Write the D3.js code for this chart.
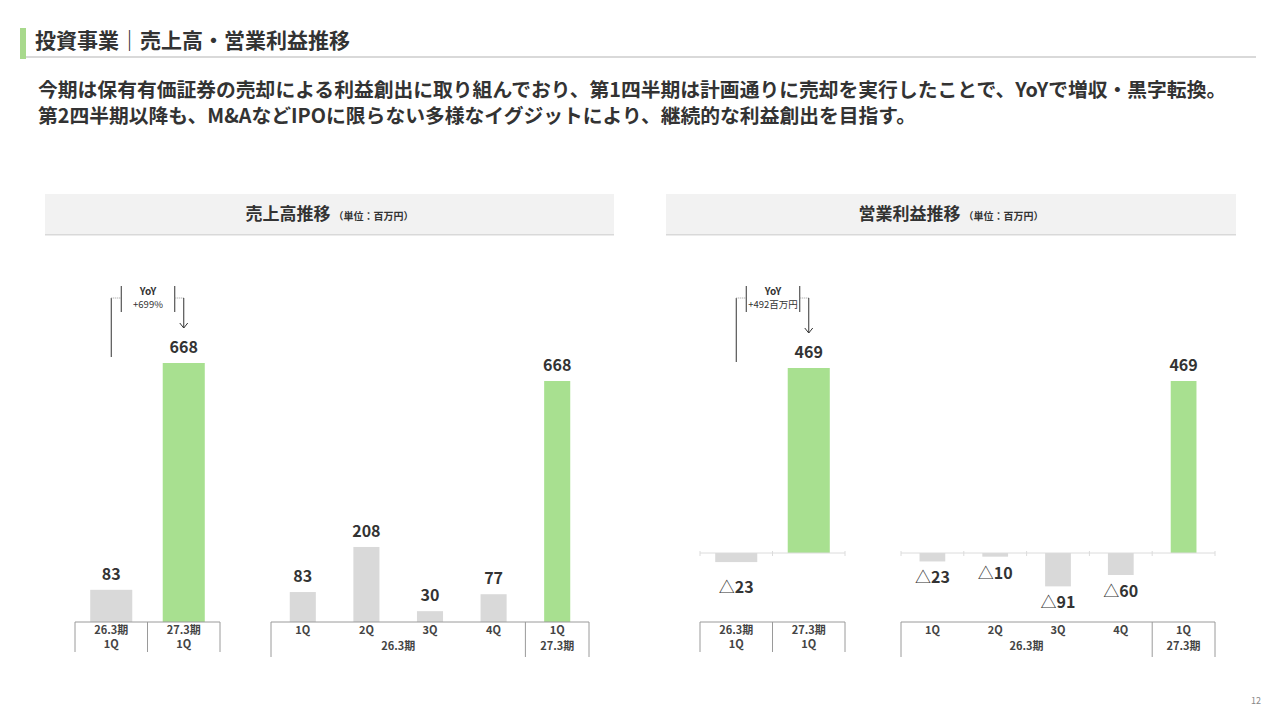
<!DOCTYPE html>
<html>
<head>
<meta charset="utf-8">
<style>
    body { margin: 0; background: #fff; }
    svg { display: block; font-family: "Noto Sans CJK JP", "Noto Sans", sans-serif; }
    .val { font-size: 16px; font-weight: bold; fill: #333; }
    .cat { font-size: 11px; font-weight: bold; fill: #444; }
</style>
</head>
<body>
<svg width="1280" height="720"></svg>
<script src="https://d3js.org/d3.v7.min.js"></script>
<script>
    // data
    let yoyCats = ["26.3期", "27.3期"];
    let quarters = ["1Q", "2Q", "3Q", "4Q", "1Q"];
    let periods = ["26.3期", "26.3期", "26.3期", "26.3期", "27.3期"];
    let salesYoy = [83, 668];
    let salesQ = [83, 208, 30, 77, 668];
    let profitYoy = [-23, 469];
    let profitQ = [-23, -10, -91, -60, 469];
    let yoyText = ["+699%", "+492百万円"];

    let green = "#a8e090";
    let grey = "#d9d9d9";

    let svg = d3.select("svg");

    // header
    svg.append("rect").attr("x", 20).attr("y", 28).attr("width", 6).attr("height", 31).attr("fill", "#a8d98c");
    svg.append("rect").attr("x", 26).attr("y", 56).attr("width", 1230).attr("height", 2).attr("fill", "#d9d9d9");
    svg.append("text").attr("x", 35).attr("y", 48)
        .style("font-size", "21px").style("font-weight", "bold").attr("fill", "#333")
        .text("投資事業｜売上高・営業利益推移");

    let lead = [
        "今期は保有有価証券の売却による利益創出に取り組んでおり、第1四半期は計画通りに売却を実行したことで、YoYで増収・黒字転換。",
        "第2四半期以降も、M&AなどIPOに限らない多様なイグジットにより、継続的な利益創出を目指す。"
    ];
    svg.append("text")
        .attr("x", 38).attr("y", 97)
        .style("font-size", "19.8px").style("font-weight", "bold").attr("fill", "#333")
        .selectAll("tspan").data(lead).join("tspan")
        .attr("x", 38).attr("dy", (d, i) => i === 0 ? 0 : 26)
        .text(d => d);

    // panel headers
    function panel(x0, x1, title) {
        svg.append("rect").attr("x", x0).attr("y", 194).attr("width", x1 - x0).attr("height", 41).attr("fill", "#f2f2f2");
        svg.append("rect").attr("x", x0).attr("y", 234).attr("width", x1 - x0).attr("height", 1.5).attr("fill", "#d9d9d9");
        let t = svg.append("text").attr("x", (x0 + x1) / 2).attr("y", 220)
            .attr("text-anchor", "middle").attr("fill", "#333");
        t.append("tspan").style("font-size", "17px").style("font-weight", "bold").text(title);
        t.append("tspan").style("font-size", "10px").style("font-weight", "bold").attr("dx", 3).text("（単位：百万円）");
    }
    panel(45, 614, "売上高推移");
    panel(666, 1236, "営業利益推移");

    function fmt(v) { return Math.abs(v); }

    function drawBars(cfg) {
        let x = d3.scaleBand().domain(d3.range(cfg.values.length))
            .range([cfg.x0, cfg.x1]).paddingInner(cfg.pad).paddingOuter(cfg.pad / 2);
        let y = d3.scaleLinear().domain([0, cfg.max]).range([cfg.base, cfg.top]);
        let g = svg.append("g");

        g.selectAll("rect.bar").data(cfg.values).join("rect")
            .attr("class", "bar")
            .attr("x", (d, i) => x(i))
            .attr("width", x.bandwidth())
            .attr("y", d => y(Math.max(0, d)))
            .attr("height", d => Math.abs(y(d) - y(0)))
            .attr("fill", (d, i) => i === cfg.values.length - 1 ? green : grey);

        // value labels
        let lab = g.selectAll("text.val").data(cfg.values).join("text")
            .attr("class", "val")
            .attr("text-anchor", "middle")
            .attr("x", (d, i) => x(i) + x.bandwidth() / 2)
            .attr("y", d => d >= 0 ? y(d) - 10 : y(d) + cfg.negOff);
        lab.filter(d => d < 0).append("tspan").style("font-weight", "normal").text("△");
        lab.append("tspan").text(d => fmt(d));

        // zero line for profit charts
        if (cfg.zeroLine) {
            g.append("line").attr("x1", cfg.x0).attr("x2", cfg.x1)
                .attr("y1", y(0)).attr("y2", y(0)).attr("stroke", "#dcdcdc");
            let edges = d3.range(cfg.values.length + 1).map(i => cfg.x0 + i * x.step());
            g.selectAll("line.tk").data(edges).join("line").attr("class", "tk")
                .attr("x1", d => d).attr("x2", d => d)
                .attr("y1", y(0) - 2).attr("y2", y(0) + 3).attr("stroke", "#dcdcdc");
        }

        // category table
        let tY = 622;
        g.append("line").attr("x1", cfg.x0).attr("x2", cfg.x1).attr("y1", tY).attr("y2", tY)
            .attr("stroke", "#9a9a9a");
        g.selectAll("line.div").data(cfg.dividers).join("line").attr("class", "div")
            .attr("x1", d => cfg.x0 + d * x.step()).attr("x2", d => cfg.x0 + d * x.step())
            .attr("y1", tY).attr("y2", tY + cfg.tableH).attr("stroke", "#9a9a9a");
        g.selectAll("text.c1").data(cfg.row1).join("text").attr("class", "cat c1")
            .attr("text-anchor", "middle")
            .attr("x", (d, i) => x(i) + x.bandwidth() / 2).attr("y", tY + 12)
            .text(d => d);
        g.selectAll("text.c2").data(cfg.row2).join("text").attr("class", "cat c2")
            .attr("text-anchor", "middle")
            .attr("x", d => cfg.x0 + d.mid * x.step()).attr("y", tY + cfg.row2Y)
            .text(d => d.label);
        return { x, y };
    }

    function yoyMark(sc, top, bottom, text) {
        let c1 = sc.x(0) + sc.x.bandwidth() / 2;
        let c2 = sc.x(1) + sc.x.bandwidth() / 2;
        let g = svg.append("g").attr("stroke", "#333").attr("fill", "none");
        g.append("line").attr("x1", c1).attr("x2", c1).attr("y1", 298).attr("y2", bottom);
        g.append("line").attr("x1", c1).attr("x2", c1 + 10).attr("y1", 298).attr("y2", 298)
            .attr("stroke", "#999").attr("stroke-dasharray", "1,1");
        g.append("line").attr("x1", c1 + 10).attr("x2", c1 + 10).attr("y1", 286).attr("y2", 312);
        g.append("line").attr("x1", c2 - 9).attr("x2", c2 - 9).attr("y1", 286).attr("y2", 312);
        g.append("line").attr("x1", c2 - 9).attr("x2", c2).attr("y1", 298).attr("y2", 298)
            .attr("stroke", "#999").attr("stroke-dasharray", "1,1");
        g.append("line").attr("x1", c2).attr("x2", c2).attr("y1", 298).attr("y2", top);
        g.append("path").attr("d", `M${c2 - 4},${top - 5}L${c2},${top}L${c2 + 4},${top - 5}`);
        let mid = (c1 + c2) / 2 + 0.5;
        svg.append("text").attr("x", mid).attr("y", 295).attr("text-anchor", "middle")
            .style("font-size", "10px").style("font-weight", "bold").attr("fill", "#333").text("YoY");
        svg.append("text").attr("x", mid).attr("y", 308).attr("text-anchor", "middle")
            .style("font-size", "9.5px").attr("fill", "#333").text(text);
    }

    // sales
    let s1 = drawBars({
        values: salesYoy, x0: 75, x1: 220, pad: 0.42, max: 668, base: 622, top: 363,
        negOff: 0, zeroLine: false, dividers: [0, 1, 2], tableH: 30,
        row1: yoyCats, row2: [{ label: "1Q", mid: 0.5 }, { label: "1Q", mid: 1.5 }], row2Y: 26
    });
    yoyMark(s1, 328, 357, yoyText[0]);
    drawBars({
        values: salesQ, x0: 271, x1: 589, pad: 0.59, max: 668, base: 622, top: 381,
        negOff: 0, zeroLine: false, dividers: [0, 4, 5], tableH: 35,
        row1: quarters, row2: [{ label: periods[0], mid: 2 }, { label: periods[4], mid: 4.5 }], row2Y: 28
    });

    // operating profit
    let p1 = drawBars({
        values: profitYoy, x0: 700, x1: 845, pad: 0.42, max: 469, base: 553, top: 368,
        negOff: 31, zeroLine: true, dividers: [0, 1, 2], tableH: 30,
        row1: yoyCats, row2: [{ label: "1Q", mid: 0.5 }, { label: "1Q", mid: 1.5 }], row2Y: 26
    });
    yoyMark(p1, 333, 362, yoyText[1]);
    drawBars({
        values: profitQ, x0: 901, x1: 1215, pad: 0.59, max: 469, base: 553, top: 381,
        negOff: 22, zeroLine: true, dividers: [0, 4, 5], tableH: 35,
        row1: quarters, row2: [{ label: periods[0], mid: 2 }, { label: periods[4], mid: 4.5 }], row2Y: 28
    });

    svg.append("text").attr("x", 1261).attr("y", 704).attr("text-anchor", "end")
        .style("font-size", "9px").attr("fill", "#888").text("12");
</script>
</body>
</html>
